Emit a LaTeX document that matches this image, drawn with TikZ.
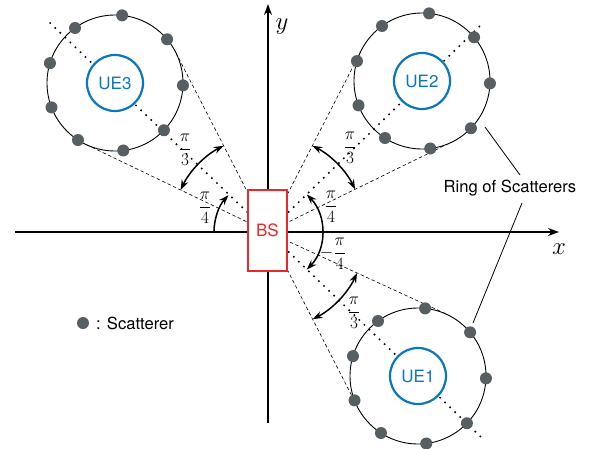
\documentclass[tikz,border=0pt]{standalone}
\usepackage{amsmath}
\usepackage[no-math]{fontspec}
\setmainfont{TeX Gyre Heros}
\usetikzlibrary{arrows.meta}
\definecolor{uebl}{RGB}{11,119,189}
\definecolor{bsred}{RGB}{232,41,42}
\definecolor{scat}{RGB}{87,95,99}
\begin{document}
\begin{tikzpicture}[x=1pt,y=1pt,
  txt/.style={font=\fontsize{16.6}{20}\selectfont, inner sep=0pt},
  frc/.style={font=\fontsize{17}{20}\selectfont, inner sep=0pt},
  axlbl/.style={font=\fontsize{24}{28}\selectfont, inner sep=0pt},
  ringc/.style={circle, draw=black, line width=0.9pt, fill=white, minimum size=136pt, inner sep=0pt},
  uecirc/.style={circle, draw=uebl, line width=2.2pt, fill=white, minimum size=56pt, inner sep=0pt, text=uebl, font=\fontsize{17}{20}\selectfont},
  scatdot/.style={circle, fill=scat, minimum size=12pt, inner sep=0pt},
  tangent/.style={dash pattern=on 3.5pt off 2.5pt, line width=0.6pt},
  beam/.style={dash pattern=on 1.6pt off 5.4pt, line width=1.5pt},
  axisline/.style={line width=1.5pt, -{Stealth[length=11pt,width=8pt]}},
  angarc/.style={line width=1.5pt, {Stealth[length=10pt,width=7pt]}-{Stealth[length=10pt,width=7pt]}},
  angarcone/.style={line width=1.5pt, -{Stealth[length=10pt,width=7pt]}},
  leader/.style={line width=0.8pt}
]
\useasboundingbox (-268,-216) rectangle (321,232);
\coordinate (O) at (0,0);
% axes
\coordinate (xl) at (-253,0);
\coordinate (xr) at (291,0);
\coordinate (yb) at (0,-191);
\coordinate (yt) at (0,228);
\draw[axisline] (xl) -- (xr);
\draw[axisline] (yb) -- (yt);
\node[axlbl] (xlab) at (291,-17) {$x$};
\node[axlbl] (ylab) at (14,205) {$y$};
% ring centers
\coordinate (c3) at (-153,149);
\coordinate (c2) at (154,151);
\coordinate (c1) at (150,-144);
% tangent points
\coordinate (t3a) at (117.2:202.5);
\coordinate (t3b) at (154.3:202.5);
\coordinate (t2a) at (26.1:204.7);
\coordinate (t2b) at (62.8:204.7);
\coordinate (t1a) at (-24.7:196.5);
\coordinate (t1b) at (-62.9:196.5);
\foreach \t in {t3a,t3b,t2a,t2b,t1a,t1b} \draw[tangent] (O) -- (\t);
% rings
\node[ringc] (r3) at (c3) {};
\node[ringc] (r2) at (c2) {};
\node[ringc] (r1) at (c1) {};
% beams
\coordinate (e3) at (-220,211);
\coordinate (e2) at (215,209);
\coordinate (e1) at (215,-207);
\draw[beam] (O) -- (e3);
\draw[beam] (O) -- (e2);
\draw[beam] (O) -- (e1);
% UEs
\node[uecirc] (ue3) at (c3) {UE3};
\node[uecirc] (ue2) at (c2) {UE2};
\node[uecirc] (ue1) at (c1) {UE1};
% scatterers
\foreach \c in {1,2,3}{
  \foreach \a [count=\i] in {84,126,40,163,-2,201,-44,237,277}
    \node[scatdot] (s\c-\i) at ([shift={(\a:68)}]c\c) {};
}
% BS
\node[draw=bsred, line width=2pt, fill=white, minimum width=39pt, minimum height=81pt, inner sep=0pt, text=bsred, font=\fontsize{17}{20}\selectfont] (bs) at (-0.5,1.5) {BS};
% angle arcs
\draw[angarc] ([shift={(117.2:97)}]O) arc[start angle=117.2, end angle=154.3, radius=97];
\draw[angarc] ([shift={(26.1:97)}]O) arc[start angle=26.1, end angle=62.8, radius=97];
\draw[angarc] ([shift={(-62.9:98)}]O) arc[start angle=-62.9, end angle=-24.7, radius=98];
\draw[angarcone] ([shift={(180:54)}]O) arc[start angle=180, end angle=137, radius=54];
\draw[angarc] ([shift={(-44:54)}]O) arc[start angle=-44, end angle=44, radius=54];
\node[frc] (f3) at (-83,82) {$\dfrac{\pi}{3}$};
\node[frc] (f4l) at (-63,24) {$\dfrac{\pi}{4}$};
\node[frc] (f2) at (82,84) {$\dfrac{\pi}{3}$};
\node[frc] (f4r) at (63,25) {$\dfrac{\pi}{4}$};
\node[frc] (f4m) at (65,-22) {$-\dfrac{\pi}{4}$};
\node[frc] (f1) at (86,-81) {$\dfrac{\pi}{3}$};
% ring label
\node[txt] (rl) at (242,44) {Ring of Scatterers};
\coordinate (l1a) at (252,57);
\coordinate (l1b) at (217,105);
\coordinate (l2a) at (254,29);
\coordinate (l2b) at (205,-91);
\draw[leader] (l1a) -- (l1b);
\draw[leader] (l2a) -- (l2b);
% legend
\node[scatdot] (leg) at (-185,-91) {};
\node[txt, anchor=west] (legt) at (-172,-91) {: Scatterer};
\end{tikzpicture}
\end{document}
